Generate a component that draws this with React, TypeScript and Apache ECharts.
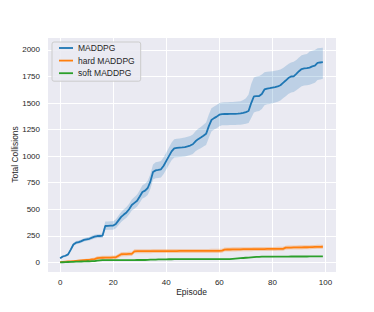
import React, { useEffect, useRef } from "react";
import * as echarts from "echarts";

const episodes: number[] = Array.from({ length: 100 }, (_, i) => i);
const seriesNames = ["MADDPG", "hard MADDPG", "soft MADDPG"];
const xTicks = [0, 20, 40, 60, 80, 100];
const yTicks = [0, 250, 500, 750, 1000, 1250, 1500, 1750, 2000];

const maddpgMean = [
  38, 55, 62, 75, 120, 168, 185, 190, 200, 212,
  217, 222, 232, 242, 248, 248, 252, 342, 344, 345,
  346, 362, 395, 428, 450, 470, 500, 540, 560, 580,
  620, 662, 675, 700, 760, 850, 866, 870, 876, 910,
  955, 1000, 1045, 1074, 1077, 1080, 1082, 1085, 1092, 1100,
  1112, 1140, 1160, 1175, 1192, 1210, 1280, 1340, 1358, 1372,
  1390, 1396, 1397, 1397, 1398, 1398, 1399, 1400, 1402, 1408,
  1415, 1425, 1500, 1562, 1565, 1566, 1585, 1628, 1636, 1640,
  1645, 1650, 1656, 1668, 1690, 1712, 1735, 1750, 1752, 1775,
  1800, 1820, 1826, 1828, 1834, 1845, 1852, 1878, 1882, 1885,
];
const maddpgLower = [
  30, 45, 50, 62, 105, 152, 170, 175, 185, 196,
  200, 205, 215, 225, 230, 230, 232, 305, 306, 307,
  308, 320, 350, 380, 400, 420, 450, 488, 505, 525,
  560, 600, 612, 635, 690, 780, 792, 795, 800, 832,
  875, 920, 962, 988, 990, 992, 994, 996, 1003, 1010,
  1020, 1045, 1062, 1075, 1090, 1105, 1172, 1232, 1250, 1262,
  1282, 1290, 1292, 1292, 1293, 1293, 1294, 1295, 1296, 1300,
  1305, 1312, 1360, 1410, 1420, 1425, 1445, 1480, 1488, 1492,
  1498, 1505, 1512, 1525, 1545, 1565, 1585, 1600, 1603, 1620,
  1640, 1658, 1665, 1668, 1672, 1682, 1690, 1718, 1722, 1730,
];
const maddpgUpper = [
  45, 65, 72, 88, 135, 182, 200, 205, 215, 228,
  234, 240, 250, 260, 265, 266, 275, 385, 385, 386,
  388, 405, 440, 475, 500, 520, 552, 592, 615, 638,
  680, 725, 740, 768, 830, 922, 942, 948, 955, 990,
  1035, 1082, 1128, 1160, 1163, 1166, 1170, 1175, 1182, 1190,
  1205, 1235, 1258, 1275, 1295, 1318, 1390, 1450, 1468, 1482,
  1500, 1506, 1507, 1508, 1510, 1511, 1512, 1514, 1518, 1528,
  1545, 1580, 1680, 1740, 1750, 1755, 1770, 1790, 1795, 1798,
  1800, 1804, 1808, 1815, 1830, 1848, 1868, 1882, 1888, 1905,
  1930, 1950, 1958, 1962, 1985, 1992, 2000, 2015, 2018, 2020,
];

const hardMean = [
  2, 4, 6, 8, 10, 12, 14, 16, 18, 20,
  22, 24, 27, 30, 40, 42, 43, 44, 45, 45,
  46, 47, 62, 76, 77, 78, 79, 80, 104, 105,
  105, 105, 105, 105, 105, 106, 106, 106, 106, 106,
  106, 106, 106, 106, 106, 107, 107, 107, 107, 107,
  107, 107, 107, 107, 107, 107, 107, 108, 108, 108,
  108, 110, 120, 121, 121, 122, 122, 123, 123, 124,
  124, 124, 124, 125, 125, 125, 125, 125, 126, 126,
  126, 126, 127, 127, 127, 138, 139, 139, 140, 140,
  141, 141, 142, 142, 143, 144, 145, 146, 146, 147,
];
const hardLower = [
  0, 0, 0, 1, 2, 4, 5, 6, 8, 9,
  10, 11, 13, 15, 22, 24, 25, 26, 27, 27,
  28, 29, 42, 56, 57, 58, 59, 60, 85, 86,
  86, 86, 86, 86, 86, 87, 87, 87, 87, 87,
  87, 87, 87, 87, 87, 88, 88, 88, 88, 88,
  88, 88, 88, 88, 88, 88, 88, 89, 89, 89,
  89, 91, 101, 102, 102, 103, 103, 104, 104, 105,
  105, 105, 105, 106, 106, 106, 106, 106, 107, 107,
  107, 107, 108, 108, 108, 119, 120, 120, 121, 121,
  122, 122, 123, 123, 124, 125, 126, 127, 127, 128,
];
const hardUpper = [
  6, 9, 12, 15, 18, 20, 23, 26, 28, 31,
  34, 37, 41, 45, 58, 60, 61, 62, 63, 63,
  64, 65, 82, 96, 97, 98, 99, 100, 123, 124,
  124, 124, 124, 124, 124, 125, 125, 125, 125, 125,
  125, 125, 125, 125, 125, 126, 126, 126, 126, 126,
  126, 126, 126, 126, 126, 126, 126, 127, 127, 127,
  127, 129, 139, 140, 140, 141, 141, 142, 142, 143,
  143, 143, 143, 144, 144, 144, 144, 144, 145, 145,
  145, 145, 146, 146, 146, 157, 158, 158, 159, 159,
  160, 160, 161, 161, 162, 163, 164, 165, 165, 166,
];

const softMean = [
  0, 1, 2, 3, 4, 5, 6, 7, 8, 9,
  10, 10, 11, 12, 17, 19, 20, 20, 20, 20,
  20, 20, 21, 21, 21, 21, 21, 21, 21, 22,
  22, 22, 22, 24, 25, 26, 26, 27, 27, 28,
  28, 29, 29, 30, 30, 30, 31, 31, 31, 31,
  31, 31, 31, 31, 31, 31, 31, 31, 31, 31,
  31, 31, 31, 31, 31, 33, 35, 37, 39, 41,
  43, 45, 47, 49, 51, 52, 53, 53, 53, 53,
  53, 54, 54, 54, 54, 54, 54, 55, 55, 55,
  55, 55, 55, 55, 56, 56, 56, 56, 56, 56,
];
const softLower = [
  0, 0, 0, 0, 1, 2, 3, 4, 5, 6,
  7, 7, 8, 9, 13, 15, 16, 16, 16, 16,
  16, 16, 17, 17, 17, 17, 17, 17, 17, 18,
  18, 18, 18, 20, 21, 22, 22, 23, 23, 24,
  24, 25, 25, 26, 26, 26, 27, 27, 27, 27,
  27, 27, 27, 27, 27, 27, 27, 27, 27, 27,
  27, 27, 27, 27, 27, 29, 31, 33, 35, 37,
  39, 41, 43, 45, 47, 48, 49, 49, 49, 49,
  49, 50, 50, 50, 50, 50, 50, 51, 51, 51,
  51, 51, 51, 51, 52, 52, 52, 52, 52, 52,
];
const softUpper = [
  2, 3, 4, 5, 7, 8, 9, 10, 11, 12,
  13, 13, 14, 15, 21, 23, 24, 24, 24, 24,
  24, 24, 25, 25, 25, 25, 25, 25, 25, 26,
  26, 26, 26, 28, 29, 30, 30, 31, 31, 32,
  32, 33, 33, 34, 34, 34, 35, 35, 35, 35,
  35, 35, 35, 35, 35, 35, 35, 35, 35, 35,
  35, 35, 35, 35, 35, 37, 39, 41, 43, 45,
  47, 49, 51, 53, 55, 56, 57, 57, 57, 57,
  57, 58, 58, 58, 58, 58, 58, 59, 59, 59,
  59, 59, 59, 59, 60, 60, 60, 60, 60, 60,
];

const colors = ["#1f77b4", "#ff7f0e", "#2ca02c"];
const bandColors = ["rgba(31,119,180,0.22)", "rgba(255,127,14,0.3)", "rgba(44,160,44,0.25)"];
const FONT = "'Liberation Sans', Arial, Helvetica, sans-serif";
const TEXT = "#262626";

function bandSeries(key: string, lower: number[], upper: number[], color: string) {
  return {
    name: key,
    type: "custom",
    silent: true,
    z: 1,
    data: [[episodes[0], lower[0]]],
    renderItem: (_params: any, api: any) => {
      const pts: number[][] = [];
      for (let i = 0; i < episodes.length; i++) pts.push(api.coord([episodes[i], upper[i]]));
      for (let i = episodes.length - 1; i >= 0; i--) pts.push(api.coord([episodes[i], lower[i]]));
      return {
        type: "polygon",
        shape: { points: pts },
        style: { fill: color, stroke: "none" },
        silent: true,
      };
    },
  };
}

function meanSeries(name: string, values: number[], color: string, z: number) {
  return {
    name,
    type: "line",
    data: episodes.map((e, i) => [e, values[i]]),
    showSymbol: false,
    symbol: "none",
    color,
    lineStyle: { color, width: 1.8 },
    z,
  };
}

export default function App() {
  const ref = useRef<HTMLDivElement>(null);
  useEffect(() => {
    if (!ref.current) return;
    const chart = echarts.init(ref.current, null, { renderer: "svg" });
    chart.setOption({
      animation: false,
      backgroundColor: "#ffffff",
      textStyle: { fontFamily: FONT },
      grid: {
        left: 47,
        right: 38,
        top: 37,
        bottom: 40,
        show: true,
        backgroundColor: "#EAEAF2",
        borderWidth: 0,
        containLabel: false,
        outerBoundsMode: "none",
      },
      legend: {
        data: seriesNames,
        orient: "vertical",
        left: 52,
        top: 42,
        icon: "rect",
        itemWidth: 14,
        itemHeight: 1.8,
        itemGap: 0.6,
        padding: [0, 6, 2, 7],
        backgroundColor: "rgba(234,234,242,0.85)",
        borderColor: "#cccccc",
        borderWidth: 1,
        borderRadius: 2,
        textStyle: { fontFamily: FONT, fontSize: 8.5, color: TEXT, lineHeight: 12 },
      },
      xAxis: {
        type: "value",
        min: -4.95,
        max: 103.95,
        minInterval: 20,
        maxInterval: 20,
        name: "Episode",
        nameLocation: "middle",
        nameGap: 15,
        nameMoveOverlap: false,
        nameTextStyle: { fontFamily: FONT, fontSize: 8.5, color: TEXT },
        axisLine: { show: false },
        axisTick: { show: false },
        axisLabel: {
          show: true,
          margin: 6,
          fontFamily: FONT,
          fontSize: 8,
          color: TEXT,
          showMinLabel: false,
          showMaxLabel: false,
          formatter: (v: number) => (xTicks.includes(v) ? String(v) : ""),
        },
        splitLine: { show: true, lineStyle: { color: "#ffffff", width: 1 } },
      },
      yAxis: {
        type: "value",
        min: -91,
        max: 2122,
        minInterval: 250,
        maxInterval: 250,
        name: "Total Collisions",
        nameLocation: "middle",
        nameGap: 28,
        nameMoveOverlap: false,
        nameTextStyle: { fontFamily: FONT, fontSize: 8.5, color: TEXT },
        axisLine: { show: false },
        axisTick: { show: false },
        axisLabel: {
          show: true,
          margin: 7,
          fontFamily: FONT,
          fontSize: 8,
          color: TEXT,
          showMinLabel: false,
          showMaxLabel: false,
          formatter: (v: number) => (yTicks.includes(v) ? String(v) : ""),
        },
        splitLine: { show: true, lineStyle: { color: "#ffffff", width: 1 } },
      },
      series: [
        bandSeries("band0", maddpgLower, maddpgUpper, bandColors[0]),
        bandSeries("band1", hardLower, hardUpper, bandColors[1]),
        bandSeries("band2", softLower, softUpper, bandColors[2]),
        meanSeries(seriesNames[0], maddpgMean, colors[0], 3),
        meanSeries(seriesNames[1], hardMean, colors[1], 3),
        meanSeries(seriesNames[2], softMean, colors[2], 3),
      ],
    });
    return () => chart.dispose();
  }, []);
  return (
    <div
      ref={ref}
      style={{ position: "fixed", left: 0, top: 0, width: 374, height: 312 }}
    />
  );
}
